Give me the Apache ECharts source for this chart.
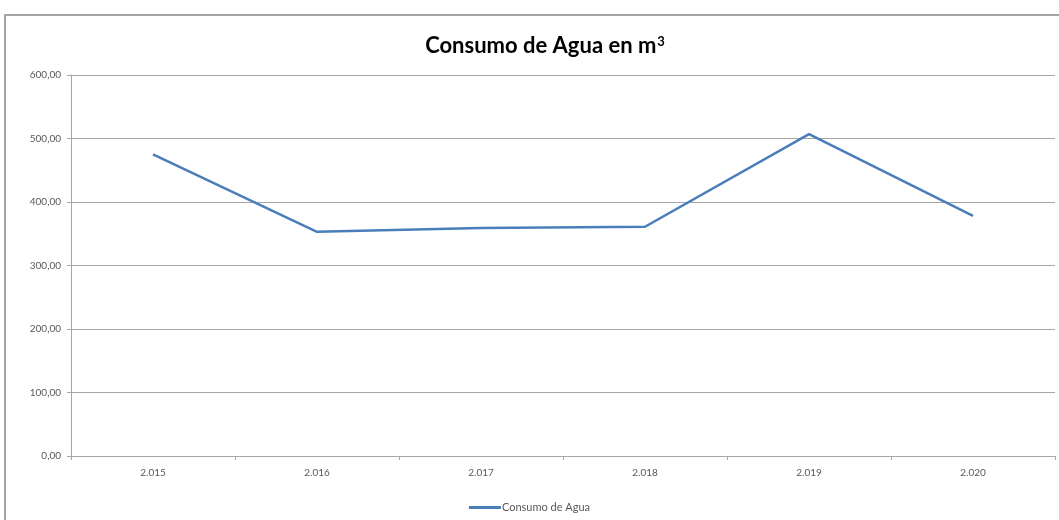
<!DOCTYPE html>
<html>
<head>
<meta charset="utf-8">
<title>Consumo de Agua</title>
<script src="https://cdn.jsdelivr.net/npm/echarts@6/dist/echarts.min.js"></script>
<style>
  html, body { margin: 0; padding: 0; background: #fff; overflow: hidden; }
  .frame {
    position: absolute;
    left: 4px;
    top: 14px;
    width: 1200px;
    height: 700px;
    border-left: 2px solid #a6a6a6;
    border-top: 2px solid #a6a6a6;
  }
  #chart { position: absolute; left: 0; top: 0; width: 1059px; height: 520px; }
</style>
</head>
<body>
<div class="frame"></div>
<div id="chart"></div>
<script>
  // datos
  var years = ['2.015', '2.016', '2.017', '2.018', '2.019', '2.020']
  var consumo = [475, 353, 359, 361, 507, 378]
  var yTicks = [0, 100, 200, 300, 400, 500, 600]

  var font = 'Lato, "Open Sans", sans-serif'
  var chart = echarts.init(document.getElementById('chart'))

  var option = {
    animation: false,
    title: {
      text: 'Consumo de Agua en m{sup|3}',
      left: 540,
      textAlign: 'center',
      top: 30,
      textStyle: {
        fontFamily: font,
        fontSize: 22,
        fontWeight: 'bold',
        color: '#000',
        rich: {
          sup: {
            fontFamily: font,
            fontSize: 13,
            fontWeight: 'bold',
            color: '#000',
            verticalAlign: 'top',
            padding: [0, 0, 8, 1]
          }
        }
      }
    },
    legend: {
      data: ['Consumo de Agua'],
      left: 'center',
      top: 497,
      icon: 'rect',
      itemWidth: 32,
      itemHeight: 3,
      textStyle: {
        fontFamily: font,
        fontSize: 11,
        color: '#595959',
        padding: [0, 0, 0, -4]
      }
    },
    grid: {
      left: 71,
      right: 4,
      top: 75,
      bottom: 64
    },
    xAxis: {
      type: 'category',
      data: years,
      boundaryGap: true,
      axisLine: { lineStyle: { color: '#a6a6a6', width: 1 } },
      axisTick: { show: true, length: 4, lineStyle: { color: '#a6a6a6' } },
      axisLabel: {
        fontFamily: font,
        fontSize: 10,
        color: '#595959',
        margin: 12
      }
    },
    yAxis: {
      type: 'value',
      min: yTicks[0],
      max: yTicks[yTicks.length - 1],
      interval: 100,
      axisLine: { show: true, lineStyle: { color: '#a6a6a6', width: 1 } },
      axisTick: { show: true, length: 4, lineStyle: { color: '#a6a6a6' } },
      splitLine: { lineStyle: { color: '#a6a6a6', width: 1 } },
      axisLabel: {
        fontFamily: font,
        fontSize: 10,
        color: '#595959',
        margin: 10,
        formatter: function (v) {
          return v.toFixed(2).replace('.', ',')
        }
      }
    },
    series: [
      {
        name: 'Consumo de Agua',
        type: 'line',
        data: consumo,
        symbol: 'none',
        itemStyle: { color: '#4a7ebb' },
        lineStyle: { color: '#4a7ebb', width: 2.5 }
      }
    ]
  }

  chart.setOption(option)
</script>
</body>
</html>
